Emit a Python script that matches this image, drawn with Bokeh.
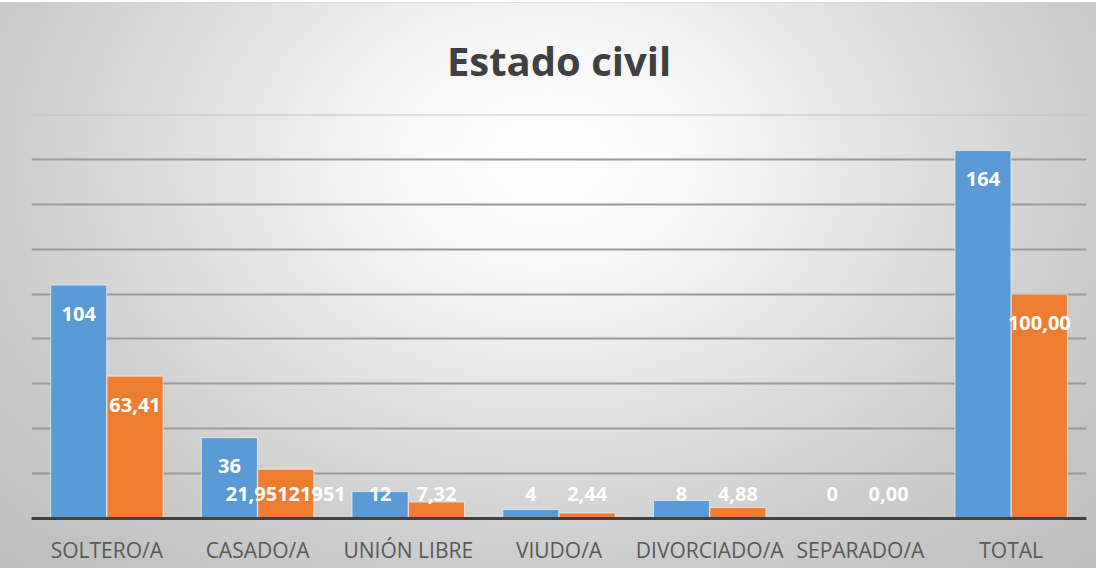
import numpy as np
from bokeh.plotting import figure
from bokeh.models import ColumnDataSource, FactorRange, Range1d, Span
from bokeh.transform import dodge
from bokeh.core.properties import value
from bokeh.embed import file_html
from bokeh.resources import INLINE

categories = ["SOLTERO/A", "CASADO/A", "UNIÓN LIBRE", "VIUDO/A", "DIVORCIADO/A", "SEPARADO/A", "TOTAL"]
frecuencia = [104, 36, 12, 4, 8, 0, 164]
porcentaje = [63.41, 21.95121951, 7.32, 2.44, 4.88, 0.00, 100.00]
porcentaje_labels = ["63,41", "21,95121951", "7,32", "2,44", "4,88", "0,00", "100,00"]
frecuencia_labels = [str(v) for v in frecuencia]

Y_MAX = 180
# inside-end label placement (data units), clamped near the baseline for short bars
inset = 12.8
floor = 11.1
f_lab_y = [max(v - inset, floor) for v in frecuencia]
p_lab_y = [max(v - inset, floor) for v in porcentaje]

src = ColumnDataSource(dict(
    cat=categories, f=frecuencia, p=porcentaje,
    fl=frecuencia_labels, pl=porcentaje_labels,
    fy=f_lab_y, py=p_lab_y,
))

p = figure(
    x_range=FactorRange(*categories, range_padding=0),
    y_range=Range1d(0, Y_MAX),
    width=1096, height=568,
    output_backend="svg", toolbar_location=None,
    min_border_left=31, min_border_right=10, min_border_top=114, min_border_bottom=50,
)

p.styles = {
    "background-image": "linear-gradient(to bottom, #ffffff 0px, #ffffff 2px, #cfcfcf 2px, transparent 3px), radial-gradient(ellipse farthest-corner at 50% 28%, #ffffff 0%, #f7f7f7 20%, #e0e0e0 46%, #cbcbcb 72%, #bdbdbd 100%)",
}
p.background_fill_alpha = 0
p.border_fill_alpha = 0
p.outline_line_color = None

p.title.text = "Estado civil"
p.title.align = "center"
p.title.text_font = "Open Sans"
p.title.text_font_style = "bold"
p.title.text_font_size = "40px"
p.title.text_color = "#404040"
p.title.standoff = 53

blue = "#5B9BD5"
orange = "#ED7D31"
off = 0.187
w = 0.372

p.vbar(x=dodge("cat", -off, range=p.x_range), top="f", width=w, source=src,
       fill_color=blue, line_color="white", line_alpha=0.6, line_width=1)
p.vbar(x=dodge("cat", off, range=p.x_range), top="p", width=w, source=src,
       fill_color=orange, line_color="white", line_alpha=0.6, line_width=1)

p.text(x=dodge("cat", -off, range=p.x_range), y="fy", text="fl", source=src,
       text_align="center", text_baseline="middle", text_color="white",
       text_font=value("Open Sans"), text_font_style="bold", text_font_size="20px")
p.text(x=dodge("cat", off, range=p.x_range), y="py", text="pl", source=src,
       text_align="center", text_baseline="middle", text_color="white",
       text_font=value("Open Sans"), text_font_style="bold", text_font_size="20px")

p.yaxis.visible = False
p.ygrid.ticker = list(range(0, Y_MAX + 1, 20))
p.ygrid.grid_line_color = "#9a9a9a"
p.ygrid.grid_line_width = 2
p.xgrid.grid_line_color = None
p.add_layout(Span(location=Y_MAX, dimension="width", line_color="#c4c4c4", line_width=2))

xa = p.xaxis[0]
xa.axis_line_color = "#404040"
xa.axis_line_width = 3
xa.major_tick_line_color = None
xa.minor_tick_line_color = None
xa.major_label_text_font = "Open Sans"
xa.major_label_text_font_size = "21px"
xa.major_label_text_color = "#595959"
xa.major_label_standoff = 11

open("out.html", "w").write(file_html(p, INLINE))
